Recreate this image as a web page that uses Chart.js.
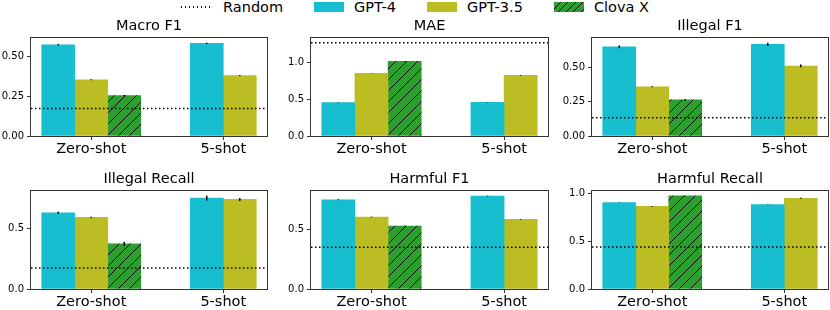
<!DOCTYPE html>
<html>
<head>
<meta charset="utf-8">
<script src="https://cdn.jsdelivr.net/npm/chart.js@4.4.1/dist/chart.umd.min.js"></script>
<style>
  body { margin: 0; background: #fff; }
  #fig { position: relative; width: 830px; height: 310px; overflow: hidden; font-family: 'DejaVu Sans', sans-serif; }
  #fig canvas { position: absolute; }
  #legend { position: absolute; left: 0; top: 0; width: 830px; display: flex; justify-content: center; font-size: 14.5px; line-height: 14.5px; color: #000; white-space: nowrap; }
  .item { display: flex; align-items: flex-start; margin: 0 15.5px; }
  .patch { width: 30px; height: 10px; margin-top: 2px; margin-right: 10px; }
  .dots { width: 30px; height: 1.5px; margin-top: 6px; margin-right: 12px;
          background: repeating-linear-gradient(to right, #000 0 1.5px, transparent 1.5px 4px); }
</style>
</head>
<body>
<div id="fig"><div id="legend"></div></div>
<script>
// ---- data ----
const metrics = ['Macro F1', 'MAE', 'Illegal F1', 'Illegal Recall', 'Harmful F1', 'Harmful Recall'];
const settings = ['Zero-shot', '5-shot'];
const models = ['GPT-4', 'GPT-3.5', 'Clova X'];

const gpt4 = [[0.573, 0.582], [0.452, 0.457], [0.646, 0.665], [0.626, 0.747], [0.744, 0.775], [0.906, 0.885]];
const gpt35 = [[0.353, 0.380], [0.851, 0.823], [0.357, 0.508], [0.588, 0.736], [0.600, 0.580], [0.865, 0.951]];
const clova = [[0.254, null], [1.013, null], [0.262, null], [0.371, null], [0.525, null], [0.975, null]];

const gpt4Err = [[0.004, 0.004], [0.003, 0.003], [0.010, 0.012], [0.008, 0.020], [0.004, 0.003], [0.003, 0.003]];
const gpt35Err = [[0.003, 0.003], [0.003, 0.005], [0.004, 0.010], [0.005, 0.012], [0.003, 0.003], [0.004, 0.004]];
const clovaErr = [[0.003, null], [0.003, null], [0.006, null], [0.018, null], [0.003, null], [0.003, null]];

const randomBaseline = [0.172, 1.266, 0.133, 0.173, 0.347, 0.440];

const yTicks = [[0, 0.25, 0.5], [0, 0.5, 1.0], [0, 0.25, 0.5], [0, 0.5], [0, 0.5], [0, 0.5, 1.0]];
const yTickLabels = [['0.00', '0.25', '0.50'], ['0.0', '0.5', '1.0'], ['0.00', '0.25', '0.50'],
                     ['0.0', '0.5'], ['0.0', '0.5'], ['0.0', '0.5', '1.0']];

// ---- style ----
const colors = ['#17becf', '#bcbd22', '#2ca02c'];
const BAR_W = 0.25;
const FONT = "'DejaVu Sans', sans-serif";
Chart.defaults.font.family = FONT;
Chart.defaults.color = '#000';

function hatch(base) {
  const c = document.createElement('canvas');
  c.width = 11; c.height = 11;
  const g = c.getContext('2d');
  g.fillStyle = base; g.fillRect(0, 0, 11, 11);
  g.strokeStyle = '#000'; g.lineWidth = 1;
  g.beginPath();
  g.moveTo(-1, 12); g.lineTo(12, -1);
  g.moveTo(-1, 1); g.lineTo(1, -1);
  g.moveTo(10, 12); g.lineTo(12, 10);
  g.stroke();
  return g.createPattern(c, 'repeat');
}
const fills = [colors[0], colors[1], hatch(colors[2])];

// ---- legend ----
const legend = document.getElementById('legend');
const randItem = document.createElement('div');
randItem.className = 'item';
randItem.innerHTML = '<div class="dots"></div><span>Random</span>';
legend.appendChild(randItem);
models.forEach((m, i) => {
  const it = document.createElement('div');
  it.className = 'item';
  const p = document.createElement('div');
  p.className = 'patch';
  p.style.background = i === 2
    ? 'repeating-linear-gradient(135deg, ' + colors[2] + ' 0 4.3px, #000 4.3px 5.3px)'
    : colors[i];
  const t = document.createElement('span');
  t.textContent = m;
  it.appendChild(p); it.appendChild(t);
  legend.appendChild(it);
});

// ---- subplot grid ----
const colL = [31, 311, 592], colR = [267, 548, 828];
const rowT = [38, 191], rowB = [136, 289];
const Y_AXIS_W = 31, TITLE_H = 26, X_AXIS_H = 24, PAD_R = 2;

const frameAndErrors = {
  id: 'frameAndErrors',
  afterDatasetsDraw(chart) {
    const ctx = chart.ctx, a = chart.chartArea, ys = chart.scales.y;
    ctx.save();
    ctx.strokeStyle = '#000';
    ctx.lineWidth = 1.5;
    chart.data.datasets.forEach((ds, i) => {
      if (ds.type === 'line') return;
      chart.getDatasetMeta(i).data.forEach((el, j) => {
        const d = ds.data[j];
        if (!d || !d.err) return;
        ctx.beginPath();
        ctx.moveTo(el.x, ys.getPixelForValue(d.y - d.err));
        ctx.lineTo(el.x, ys.getPixelForValue(d.y + d.err));
        ctx.stroke();
      });
    });
    ctx.strokeStyle = '#333';
    ctx.lineWidth = 1;
    ctx.strokeRect(a.left - 0.5, a.top - 0.5, a.right - a.left + 1, a.bottom - a.top + 1);
    ctx.restore();
  }
};

const values = [gpt4, gpt35, clova];
const errs = [gpt4Err, gpt35Err, clovaErr];
const fig = document.getElementById('fig');

metrics.forEach((title, m) => {
  const col = m % 3, row = Math.floor(m / 3);
  const cv = document.createElement('canvas');
  const w = Y_AXIS_W + (colR[col] - colL[col]) + PAD_R;
  const h = TITLE_H + (rowB[row] - rowT[row]) + X_AXIS_H;
  cv.width = w; cv.height = h;
  cv.style.left = (colL[col] - Y_AXIS_W) + 'px';
  cv.style.top = (rowT[row] - TITLE_H) + 'px';
  cv.style.width = w + 'px'; cv.style.height = h + 'px';
  fig.appendChild(cv);

  // bar positions: centred around each setting's tick
  const datasets = models.map((name, s) => ({
    type: 'bar', label: name, order: 1,
    backgroundColor: fills[s], borderWidth: 0,
    grouped: false, categoryPercentage: 1, barPercentage: 1,
    data: []
  }));
  let top = randomBaseline[m];
  let left = Infinity, right = -Infinity;
  settings.forEach((_, g) => {
    const present = models.map((_, s) => s).filter(s => values[s][m][g] != null);
    present.forEach((s, k) => {
      const x = g + (k - (present.length - 1) / 2) * BAR_W;
      const y = values[s][m][g], e = errs[s][m][g] || 0;
      datasets[s].data.push({ x: x, y: y, err: e });
      top = Math.max(top, y + e);
      left = Math.min(left, x - BAR_W / 2);
      right = Math.max(right, x + BAR_W / 2);
    });
  });
  const span = right - left;
  const xMin = left - 0.05 * span, xMax = right + 0.05 * span;
  const yMax = top * 1.05;

  datasets.unshift({
    type: 'line', label: 'Random', order: 0,
    data: [{ x: xMin, y: randomBaseline[m] }, { x: xMax, y: randomBaseline[m] }],
    borderColor: '#000', borderWidth: 1.5, borderDash: [1.5, 2.5],
    pointRadius: 0, fill: false
  });

  new Chart(cv, {
    type: 'bar',
    data: { datasets: datasets },
    options: {
      responsive: false,
      animation: false,
      devicePixelRatio: 1,
      layout: { padding: { left: 0, right: PAD_R, top: 0, bottom: 0 } },
      plugins: {
        legend: { display: false },
        tooltip: { enabled: false },
        title: {
          display: true, text: title, fullSize: false,
          color: '#000', font: { size: 14.5, weight: 'normal', lineHeight: 1.2 },
          padding: { top: 6, bottom: 2.6 }
        }
      },
      scales: {
        x: {
          type: 'linear', min: xMin, max: xMax, bounds: 'data', offset: false,
          afterBuildTicks: (ax) => { ax.ticks = settings.map((_, i) => ({ value: i })); },
          afterFit: (ax) => { ax.height = X_AXIS_H; },
          ticks: { callback: (v, i) => settings[i], font: { size: 14.5 }, color: '#000', padding: 1, maxRotation: 0, autoSkip: false },
          grid: { offset: false, drawOnChartArea: false, tickLength: 4, tickColor: '#333' },
          border: { display: false }
        },
        y: {
          type: 'linear', min: 0, max: yMax, bounds: 'data',
          afterBuildTicks: (ax) => { ax.ticks = yTicks[m].map(v => ({ value: v })); },
          afterFit: (ax) => { ax.width = Y_AXIS_W; },
          ticks: { callback: (v, i) => yTickLabels[m][i], font: { size: 10 }, color: '#000', padding: 3 },
          grid: { drawOnChartArea: false, tickLength: 4, tickColor: '#333' },
          border: { display: false }
        }
      }
    },
    plugins: [frameAndErrors]
  });
});
</script>
</body>
</html>
